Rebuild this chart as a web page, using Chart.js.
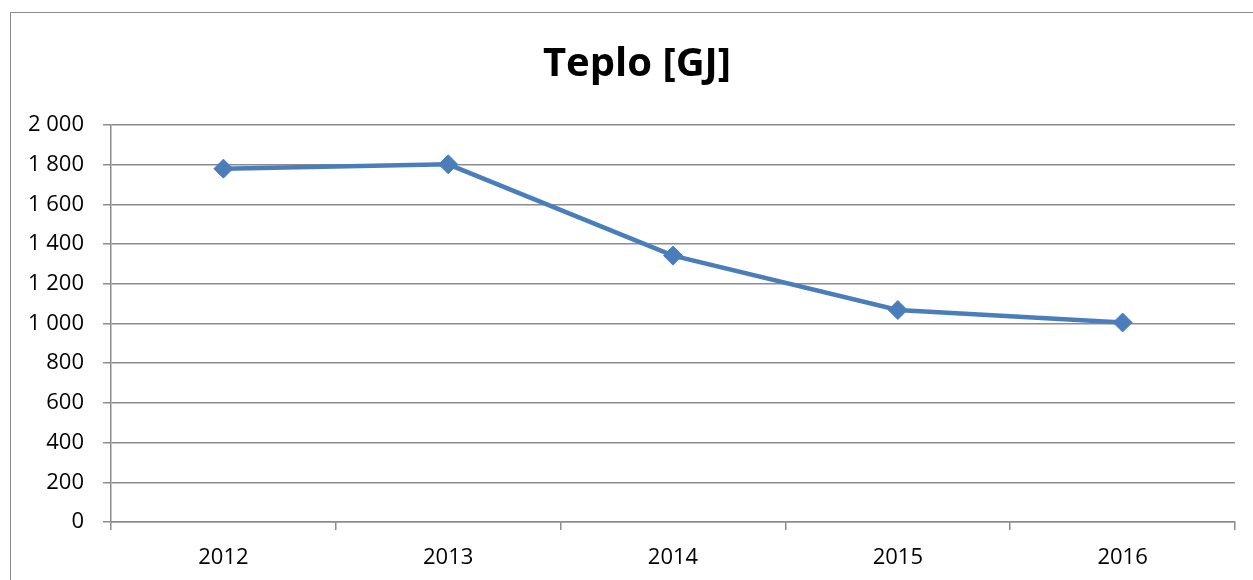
<!DOCTYPE html>
<html>
<head>
<meta charset="utf-8">
<script src="https://cdn.jsdelivr.net/npm/chart.js@4"></script>
<style>
  html, body { margin: 0; padding: 0; overflow: hidden; background: #fff; }
  #box { position: absolute; left: 10px; top: 12px; width: 1252px; height: 580px; border: 1px solid #8a8a8a; background: #fff; }
</style>
</head>
<body>
<div id="box"><canvas id="myChart" width="1252" height="567"></canvas></div>
<script>
// data
var years = ['2012', '2013', '2014', '2015', '2016'];
var teplo = [1780, 1802, 1342, 1068, 1005];
var yTicks = [0, 200, 400, 600, 800, 1000, 1200, 1400, 1600, 1800, 2000];

var gridGray = '#8c8c8c';

// title centred over whole box, not only the padded part
var titleCenter = {
    id: 'titleCenter',
    afterLayout: function (c) {
        if (c.titleBlock) { c.titleBlock.left = 0; c.titleBlock.right = c.width; }
    }
};

var ctx = document.getElementById('myChart').getContext('2d');
var chart = new Chart(ctx, {
    type: 'line',
    data: {
        labels: years,
        datasets: [{
            label: 'Teplo [GJ]',
            data: teplo,
            borderColor: '#4a7ebb',
            backgroundColor: '#4a7ebb',
            borderWidth: 4.5,
            pointStyle: 'rectRot',
            pointRadius: 9.5,
            pointHoverRadius: 9.5,
            pointBorderWidth: 1,
            tension: 0,
            fill: false
        }]
    },
    plugins: [titleCenter],
    options: {
        responsive: false,
        animation: false,
        layout: { padding: { top: 4, left: 0, right: 28, bottom: 0 } },
        plugins: {
            legend: { display: false },
            tooltip: { enabled: false },
            title: {
                display: true,
                text: 'Teplo [GJ]',
                color: '#000',
                font: { family: 'Open Sans', size: 40, weight: 'bold' },
                padding: { top: 24, bottom: 36 }
            }
        },
        scales: {
            x: {
                offset: true,
                grid: { display: true, drawOnChartArea: false, offset: true, tickLength: 8, color: gridGray, lineWidth: 1.5 },
                border: { color: gridGray, width: 1.5 },
                ticks: { color: '#000', font: { family: 'Open Sans', size: 22 }, padding: 15 },
                afterFit: function (s) { s.height = 58; }
            },
            y: {
                min: 0,
                max: 2000,
                afterBuildTicks: function (s) { s.ticks = yTicks.map(function (v) { return { value: v }; }); },
                grid: { color: gridGray, lineWidth: 1.5, tickLength: 8 },
                border: { color: gridGray, width: 1.5 },
                ticks: {
                    color: '#000',
                    font: { family: 'Open Sans', size: 22 },
                    padding: 19,
                    callback: function (v) { return String(v).replace(/\B(?=(\d{3})+(?!\d))/g, ' '); }
                },
                afterFit: function (s) { s.width = 100; }
            }
        }
    }
});
</script>
</body>
</html>
